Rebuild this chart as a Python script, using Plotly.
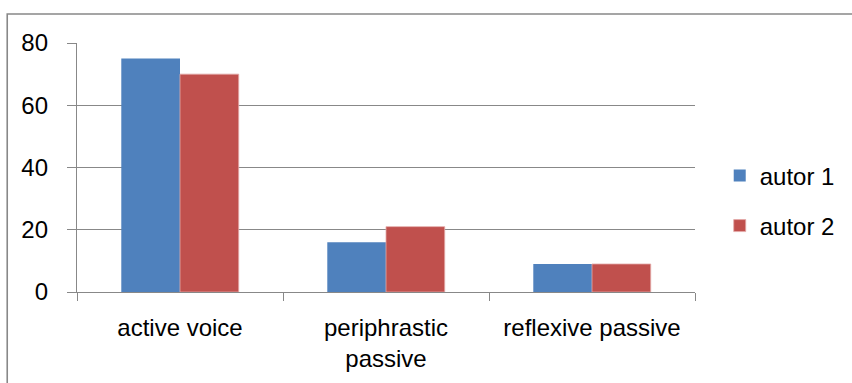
import plotly.graph_objects as go

categories = ["active voice", "periphrastic<br>passive", "reflexive passive"]
autor_1 = [75, 16, 9]
autor_2 = [70, 21, 9]
series_names = ["autor 1", "autor 2"]
y_ticks = [0, 20, 40, 60, 80]

BLUE = "#4F81BD"
RED = "#C0504D"
GRID = "#888888"
FONT = "Liberation Sans"

fig = go.Figure()
fig.add_trace(go.Bar(
    x=categories, y=autor_1, name=series_names[0],
    marker=dict(color=BLUE, line=dict(width=0)),
    legendgroup="a1",
))
fig.add_trace(go.Bar(
    x=categories, y=autor_2, name=series_names[1],
    marker=dict(color=RED, line=dict(color="#E3A9A8", width=0.8)),
    legendgroup="a2",
))

fig.update_layout(
    width=852, height=383,
    margin=dict(l=77, r=155, t=43, b=91),
    paper_bgcolor="white", plot_bgcolor="white",
    font=dict(family=FONT, size=24, color="#000000"),
    barmode="group", bargap=0.43, bargroupgap=0,
    showlegend=True,
    legend=dict(
        x=1.04, xanchor="left", y=0.557, yanchor="top",
        font=dict(family=FONT, size=24, color="#000000"),
        tracegroupgap=16, bgcolor="rgba(0,0,0,0)",
    ),
    xaxis=dict(
        type="category", tickson="boundaries", ticks="outside",
        ticklen=8, tickwidth=1.3, tickcolor=GRID,
        showline=True, linecolor=GRID, linewidth=1.3,
        showgrid=False, fixedrange=True, ticklabelstandoff=14,
    ),
    yaxis=dict(
        range=[0, 80], tickvals=y_ticks, ticks="outside",
        ticklen=9, tickwidth=1.3, tickcolor=GRID,
        showline=True, linecolor=GRID, linewidth=1.3,
        showgrid=True, gridcolor=GRID, gridwidth=1.3,
        zeroline=False, ticklabelstandoff=14,
    ),
)

# Outer chart frame
fig.add_shape(
    type="rect", xref="paper", yref="paper",
    x0=(7 - 77) / 620, x1=(860 - 77) / 620,
    y0=(292 - 400) / 249, y1=(292 - 14) / 249,
    line=dict(color=GRID, width=1.6), fillcolor="rgba(0,0,0,0)",
    layer="below",
)

fig.write_html("out.html")
